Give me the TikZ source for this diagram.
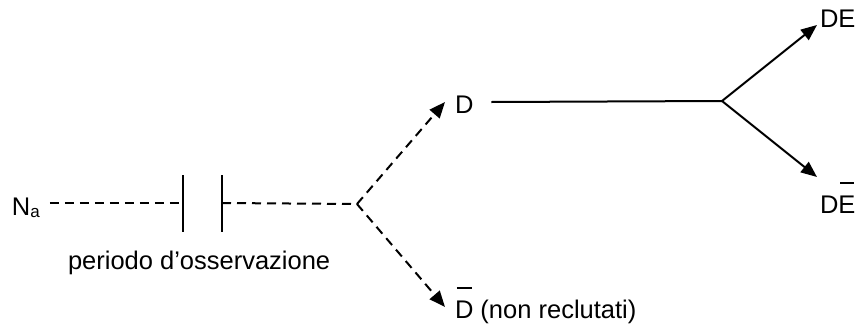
\documentclass[tikz,border=0pt]{standalone}
\usepackage{fontspec}
\setmainfont{Liberation Sans}
\usetikzlibrary{arrows.meta}
\newcommand{\obar}[1]{\setbox0=\hbox{#1}\makebox[0pt][l]{\hspace{0.07em}\rule[1.14em]{\dimexpr\wd0-0.14em\relax}{0.08em}}\box0\relax}
\begin{document}
\begin{tikzpicture}[x=1pt,y=-1pt,
  lbl/.style={font=\fontsize{25.5}{30}\selectfont, inner sep=0pt, outer sep=0pt},
  ln/.style={line width=2pt, black},
  dashln/.style={ln, dash pattern=on 9pt off 6pt},
  arr/.style={-{Triangle[length=16pt,width=13pt]}}]
\useasboundingbox (0,0) rectangle (860,327);
% labels
\node[lbl, anchor=base west] (Na) at (12,215) {N\raisebox{-2pt}{\fontsize{17}{17}\selectfont a}};
\node[lbl, anchor=base west] (per) at (68,269) {periodo d’osservazione};
\node[lbl, anchor=base west] (D) at (455,113) {D};
\node[lbl, anchor=base west] (Dbar) at (455,318) {\obar{D} (non reclutati)};
\node[lbl, anchor=base west] (DE) at (820,27) {DE};
\node[lbl, anchor=base west] (DEbar) at (820,213) {D\obar{E}};
% key points
\coordinate (b1) at (183,203);
\coordinate (b2) at (222,203);
\coordinate (br1) at (357,204);
\coordinate (br2) at (722,101);
% observation period bars
\draw[ln] ([shift={(0,-28)}]b1) -- ([shift={(0,29)}]b1);
\draw[ln] ([shift={(0,-28)}]b2) -- ([shift={(0,29)}]b2);
% dashed lines
\draw[dashln] ([shift={(10,-12)}]Na.base east) -- (b1);
\draw[dashln] (b2) -- (br1);
\draw[dashln, arr] (br1) -- ([shift={(-10,-11)}]D.base west);
\draw[dashln, arr] (br1) -- ([shift={(-10,-11)}]Dbar.base west);
% solid lines
\draw[ln] ([shift={(18,-11)}]D.base east) -- (br2);
\draw[ln, arr] (br2) -- ([shift={(-3,-2)}]DE.base west);
\draw[ln, arr] (br2) -- ([shift={(-3,-36)}]DEbar.base west);
\end{tikzpicture}
\end{document}
